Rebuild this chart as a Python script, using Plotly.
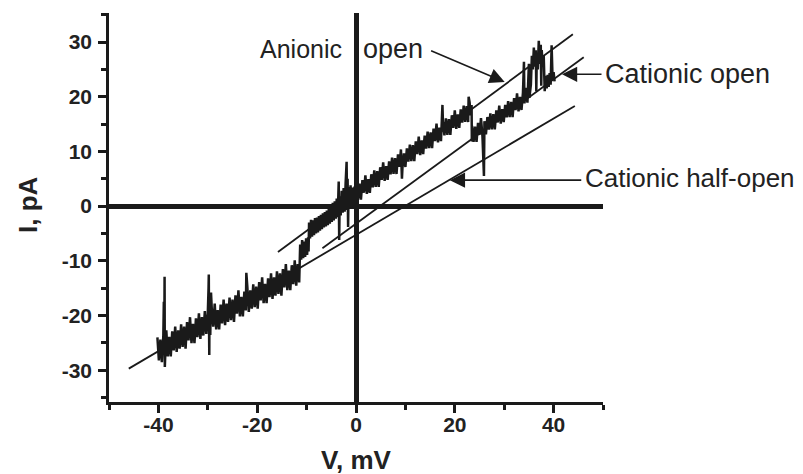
import plotly.graph_objects as go

# ---------------- data ----------------
# recorded current trace, (V in mV, I in pA): left ramp segment
seg_left = [
    (-40.2, -24.0), (-39.9, -28.2), (-39.6, -24.4), (-39.3, -28.5), (-39.0, -23.6),
    (-38.9, -17.5), (-38.8, -24.0), (-38.75, -12.9), (-38.7, -29.4), (-38.6, -26.9),
    (-38.4, -22.7), (-38.1, -27.45), (-37.8, -23.9), (-37.5, -27.45), (-37.2, -22.9),
    (-36.9, -26.35), (-36.6, -22.0), (-36.3, -26.65), (-36.0, -22.7), (-35.7, -26.05),
    (-35.4, -21.6), (-35.1, -25.75), (-34.8, -22.0), (-34.5, -26.05), (-34.2, -21.2),
    (-33.9, -24.55), (-33.6, -20.3), (-33.3, -25.05), (-33.0, -21.5), (-32.7, -25.05),
    (-32.4, -20.5), (-32.1, -23.95), (-31.8, -19.6), (-31.5, -24.25), (-31.2, -20.3),
    (-30.9, -23.65), (-30.6, -19.2), (-30.3, -23.35), (-30.0, -19.6), (-29.85, -15.0),
    (-29.8, -12.5), (-29.75, -22.0), (-29.7, -27.2), (-29.65, -16.5), (-29.5, -23.55),
    (-29.35, -15.8), (-29.2, -18.7), (-28.9, -22.05), (-28.6, -17.8), (-28.3, -22.55),
    (-28.0, -19.0), (-27.7, -22.55), (-27.4, -18.0), (-27.1, -21.45), (-26.8, -17.1),
    (-26.5, -21.75), (-26.2, -17.8), (-25.9, -21.15), (-25.6, -16.7), (-25.3, -20.85),
    (-25.0, -17.1), (-24.7, -21.15), (-24.4, -16.3), (-24.1, -19.65), (-23.8, -15.4),
    (-23.5, -20.15), (-23.2, -16.6), (-22.9, -20.15), (-22.6, -15.6), (-22.3, -19.05),
    (-22.2, -12.2), (-22.0, -14.7), (-21.7, -19.35), (-21.4, -15.4), (-21.1, -18.75),
    (-20.8, -14.3), (-20.5, -18.45), (-20.2, -14.7), (-19.9, -18.75), (-19.6, -13.9),
    (-19.3, -17.25), (-19.0, -13.0), (-18.7, -17.75), (-18.4, -14.2), (-18.1, -17.75),
    (-17.8, -13.2), (-17.5, -16.65), (-17.2, -12.3), (-16.9, -16.95), (-16.6, -13.0),
    (-16.3, -16.35), (-16.0, -11.9), (-15.7, -16.05), (-15.4, -12.3), (-15.1, -16.35),
    (-14.8, -11.5), (-14.5, -14.85), (-14.2, -10.6), (-13.9, -15.35), (-13.6, -11.8),
    (-13.3, -15.35), (-13.0, -10.8), (-12.7, -14.25), (-12.4, -9.9), (-12.1, -14.55),
    (-11.8, -10.6), (-11.5, -13.95),
]
# intermediate step and segment around 0 mV
seg_mid = [
    (-11.3, -7.0), (-11.1, -9.8), (-10.9, -6.2), (-10.7, -9.5), (-10.5, -6.5), (-10.3, -9.3),
    (-10.1, -5.9), (-9.9, -8.9), (-9.7, -5.7), (-9.6, -8.3),
    (-9.5, -3.0), (-9.3, -5.9), (-9.1, -2.5), (-8.9, -5.6), (-8.7, -2.6), (-8.5, -5.3),
    (-8.3, -2.2), (-8.1, -5.0), (-7.9, -2.1), (-7.7, -4.8), (-7.5, -1.8), (-7.3, -4.5),
    (-7.1, -1.6), (-6.9, -4.2), (-6.7, -1.3), (-6.5, -3.9), (-6.3, -1.1), (-6.1, -3.7),
    (-5.9, -0.8), (-5.7, -3.5), (-5.5, -0.4), (-5.3, -3.2), (-5.1, -0.1), (-4.9, -2.9),
    (-4.7, 0.6), (-4.5, -2.6), (-4.3, 0.9), (-4.1, -2.3), (-3.9, 1.4), (-3.7, -2.0),
    (-3.5, 4.5), (-3.4, -6.2), (-3.3, 1.8), (-3.1, -1.7), (-2.9, 2.8), (-2.7, -1.2),
    (-2.5, 3.3), (-2.3, -1.0), (-2.1, 4.2), (-1.9, 8.1), (-1.8, -0.7), (-1.7, 5.0),
    (-1.6, -3.8), (-1.5, 3.5), (-1.3, -0.5), (-1.1, 3.8), (-0.9, -0.2), (-0.7, 3.4),
    (-0.5, 0.1), (-0.3, 3.6), (-0.1, 0.4),
]
# segment following the anionic-open line
seg_anionic = [
    (0.1, 4.2), (0.4, 1.2), (0.7, 4.1), (1.0, 1.2), (1.3, 4.75), (1.6, 2.45), (1.9, 5.64),
    (2.2, 2.24), (2.5, 4.94), (2.8, 2.43), (3.1, 5.83), (3.4, 3.43), (3.7, 6.52), (4.0, 3.52),
    (4.3, 6.42), (4.6, 3.51), (4.9, 7.11), (5.2, 4.81), (5.5, 8.0), (5.8, 4.6), (6.1, 7.3),
    (6.4, 4.79), (6.7, 8.19), (7.0, 5.79), (7.3, 8.88), (7.6, 5.88), (7.9, 8.77), (8.2, 5.87),
    (8.5, 9.47), (8.8, 7.16), (9.1, 10.36), (9.3, 5.0), (9.4, 6.96), (9.7, 9.65), (10.0, 7.15),
    (10.3, 10.55), (10.6, 8.14), (10.9, 11.24), (11.2, 8.24), (11.5, 11.13), (11.8, 8.23),
    (12.1, 11.83), (12.4, 9.52), (12.7, 12.72), (13.0, 9.32), (13.3, 12.01), (13.6, 9.51),
    (13.9, 12.9), (14.2, 10.5), (14.5, 13.6), (14.8, 10.59), (15.1, 13.49), (15.4, 10.59),
    (15.7, 14.18), (16.0, 11.88), (16.3, 15.08), (16.6, 11.67), (16.9, 14.37), (17.2, 11.87),
    (17.5, 18.5), (17.6, 15.33), (17.9, 12.92), (18.2, 16.02), (18.5, 13.02), (18.8, 15.91),
    (19.1, 13.01), (19.4, 16.61), (19.7, 14.3), (20.0, 17.5), (20.3, 14.1), (20.6, 16.79),
    (20.9, 14.29), (21.2, 17.69), (21.5, 15.28), (21.8, 18.38), (22.1, 15.38), (22.4, 18.27),
    (22.7, 15.37), (22.8, 20.0), (23.0, 18.97), (23.2, 16.6), (23.4, 18.5), (23.45, 11.8),
]
# segment following the cationic-open line, with flickering at the end
seg_cationic = [
    (23.5, 14.67), (23.8, 11.76), (24.1, 14.54), (24.4, 11.73), (24.7, 15.21), (25.0, 13.0),
    (25.3, 16.09), (25.6, 12.77), (25.9, 5.5), (26.0, 15.52), (26.3, 13.11), (26.6, 16.29),
    (26.9, 13.98), (27.2, 16.96), (27.5, 14.05), (27.8, 16.84), (28.1, 14.02), (28.4, 17.51),
    (28.7, 15.29), (29.0, 18.38), (29.3, 15.07), (29.6, 17.75), (29.9, 15.34), (30.2, 18.52),
    (30.5, 16.21), (30.8, 19.2), (31.1, 16.28), (31.4, 19.07), (31.7, 16.25), (32.0, 19.74),
    (32.3, 17.53), (32.6, 20.61), (32.9, 17.3), (33.2, 19.98), (33.5, 17.57), (33.8, 20.76),
    (34.0, 26.4), (34.1, 18.8), (34.4, 21.6), (34.7, 18.9), (35.0, 26.0), (35.1, 19.8),
    (35.4, 22.2), (35.6, 27.5), (35.8, 25.0), (36.0, 29.0), (36.2, 25.5), (36.4, 28.5),
    (36.5, 21.0), (36.6, 28.0), (36.8, 25.0), (37.0, 30.2), (37.2, 26.0), (37.4, 29.5),
    (37.5, 22.0), (37.6, 28.5), (37.8, 25.5), (38.0, 27.5), (38.2, 21.0), (38.4, 23.8),
    (38.6, 21.5), (38.8, 24.0), (39.0, 21.8), (39.2, 24.3), (39.4, 22.2), (39.6, 29.4),
    (39.8, 23.0), (40.0, 24.5), (40.2, 22.8),
]

# fitted straight lines (end points, V in mV / I in pA)
anionic_open_v = [-15.8, 43.9]
anionic_open_i = [-8.4, 31.4]
cationic_open_v = [-6.8, 46.1]
cationic_open_i = [-7.7, 27.2]
cationic_half_v = [-46.0, 44.3]
cationic_half_i = [-29.7, 18.3]

x_major = [-40, -20, 0, 20, 40]
x_minor = [-50, -30, -10, 10, 30, 50]
y_major = [-30, -20, -10, 0, 10, 20, 30]
y_minor = [-35, -25, -15, -5, 5, 15, 25, 35]

# ---------------- figure ----------------
FONT = "Liberation Sans, Arial, sans-serif"
INK = "#1a1a1a"

trace_v, trace_i = [], []
for seg in (seg_left, seg_mid, seg_anionic, seg_cationic):
    for v, i in seg:
        trace_v.append(v)
        trace_i.append(i)

fig = go.Figure()
for xs, ys in ((anionic_open_v, anionic_open_i),
               (cationic_open_v, cationic_open_i),
               (cationic_half_v, cationic_half_i)):
    fig.add_trace(go.Scatter(x=xs, y=ys, mode="lines",
                             line=dict(color=INK, width=1.8), hoverinfo="skip"))

fig.add_trace(go.Scatter(x=trace_v, y=trace_i, mode="lines",
                         line=dict(color=INK, width=2.5, simplify=False)))

axis_common = dict(
    showline=True, linecolor=INK, linewidth=2.6,
    ticks="outside", ticklen=8, tickwidth=2.6, tickcolor=INK,
    showgrid=False, zeroline=True, zerolinecolor=INK, zerolinewidth=4.5,
    tickfont=dict(family=FONT, size=21, color="#222", weight="bold"),
)

fig.update_xaxes(range=[-50, 50], tickmode="array", tickvals=x_major,
                 ticktext=[str(v) for v in x_major], ticklabelstandoff=-6,
                 minor=dict(tickmode="array", tickvals=x_minor, ticks="outside",
                            ticklen=5, tickwidth=2.6, tickcolor=INK),
                 **axis_common)
fig.update_yaxes(range=[-35.8, 35.3], tickmode="array", tickvals=y_major,
                 ticktext=[str(v) for v in y_major], ticklabelstandoff=2,
                 minor=dict(tickmode="array", tickvals=y_minor, ticks="outside",
                            ticklen=5, tickwidth=2.6, tickcolor=INK),
                 **axis_common)

ann_font = dict(family=FONT, size=26, color="#222")
arrow_style = dict(axref="x", ayref="y", xref="x", yref="y", text="", showarrow=True,
                   arrowhead=2, arrowsize=1.9, arrowwidth=1.6, arrowcolor=INK)
annotations = [
    # arrows
    dict(x=30.1, y=22.7, ax=14.9, ay=28.5, **arrow_style),
    dict(x=41.7, y=24.1, ax=50.0, ay=24.1, **arrow_style),
    dict(x=19.0, y=4.75, ax=45.9, ay=4.75, **arrow_style),
    # labels
    dict(x=-19.9, y=28.8, xref="x", yref="y", text="Anionic", showarrow=False,
         xanchor="left", yanchor="middle", font=dict(ann_font, size=25)),
    dict(x=1.1, y=28.8, xref="x", yref="y", text="open", showarrow=False,
         xanchor="left", yanchor="middle", font=dict(ann_font, size=27)),
    dict(x=50.0, y=24.1, xref="x", yref="y", text="Cationic open", showarrow=False,
         xanchor="left", yanchor="middle", font=dict(ann_font, size=27)),
    dict(x=45.9, y=5.1, xref="x", yref="y", text="Cationic half-open", showarrow=False,
         xanchor="left", yanchor="middle", font=dict(ann_font, size=26)),
    # axis titles
    dict(x=0.5, y=-0.15, xref="paper", yref="paper", text="V, mV", showarrow=False,
         xanchor="center", yanchor="middle",
         font=dict(family=FONT, size=26, color="#222", weight="bold")),
    dict(x=-0.164, y=0.509, xref="paper", yref="paper", text="I, pA", showarrow=False,
         textangle=-90, xanchor="center", yanchor="middle",
         font=dict(family=FONT, size=26, color="#222", weight="bold")),
]

# the page body has an 8 px margin, so the figure is 8 px smaller than the window
fig.update_layout(
    width=795, height=466,
    margin=dict(l=101, r=200, t=5, b=72),
    plot_bgcolor="white", paper_bgcolor="white",
    showlegend=False,
    annotations=annotations,
)

fig.write_html("out.html")
